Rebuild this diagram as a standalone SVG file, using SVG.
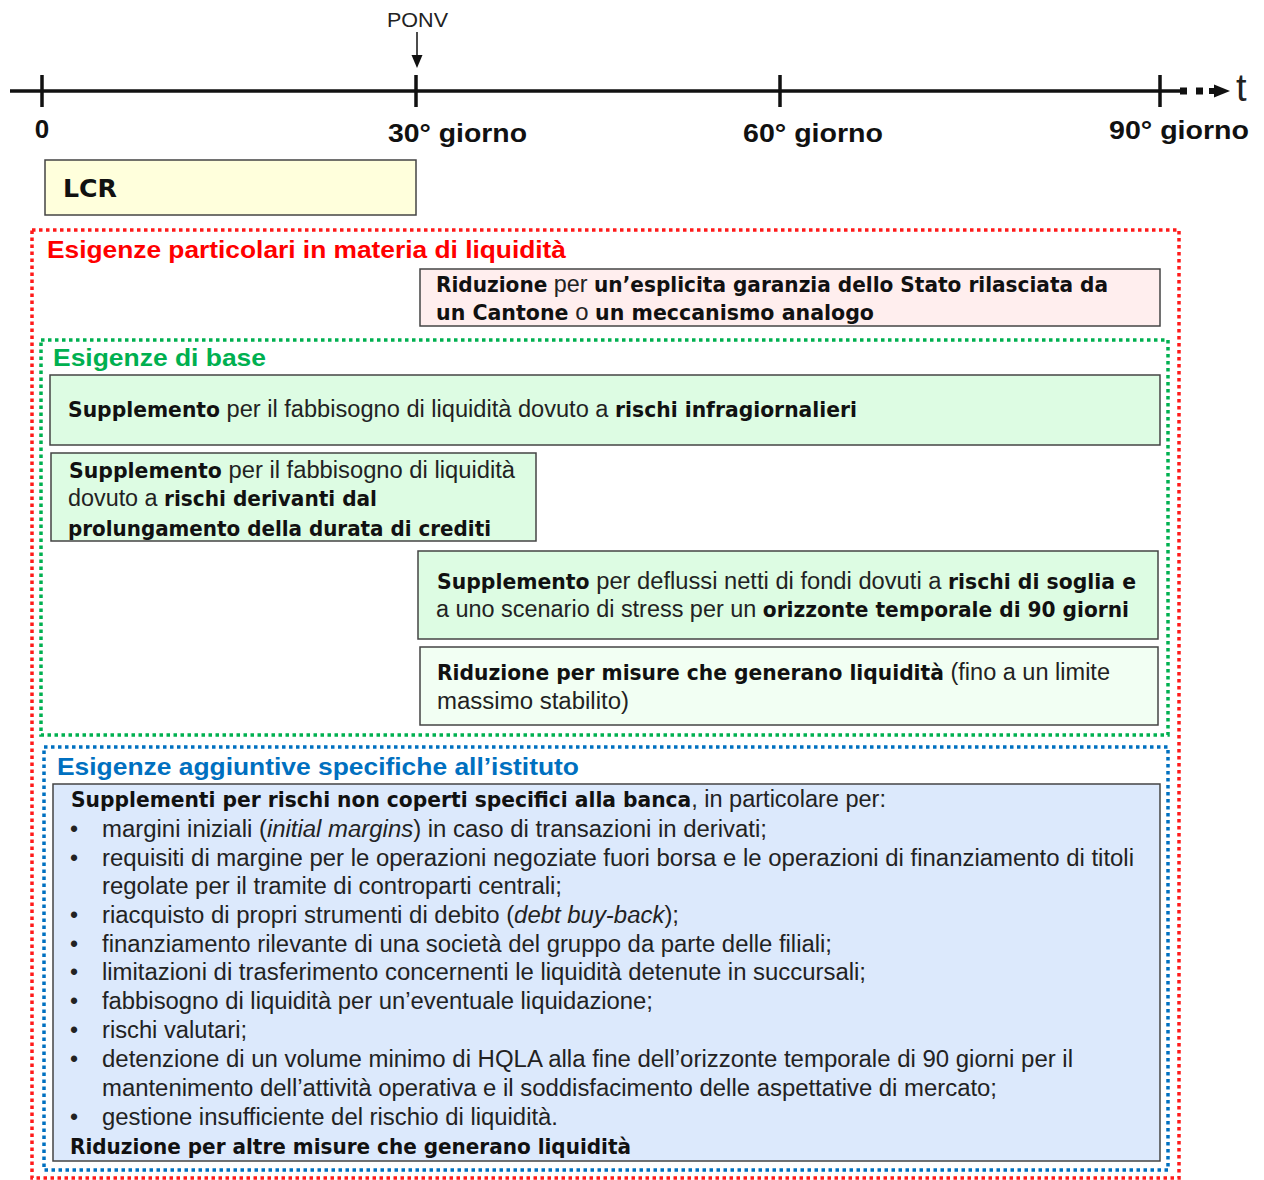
<svg xmlns="http://www.w3.org/2000/svg" width="1264" height="1180" viewBox="0 0 1264 1180">
<defs>
<style>
text{font-family:"Liberation Sans",Arial,sans-serif;fill:#222}
.t{font-size:23px}
.b{font-family:"DejaVu Sans Condensed","DejaVu Sans","Liberation Sans",sans-serif;font-stretch:condensed;font-weight:bold;font-size:22px;fill:#111}
.tl{font-size:26px;font-weight:bold;fill:#111}
.box{stroke:#444;stroke-width:1.5}
.ttl{font-size:24px;font-weight:bold}
.i{font-style:italic}
</style>
</defs>
<rect width="1264" height="1180" fill="#fff"/>
<g id="connectors">
<line x1="10" y1="91" x2="1180" y2="91" stroke="#111" stroke-width="3.5"/>
<rect x="1180" y="87.5" width="7" height="7" fill="#111"/>
<rect x="1196" y="87.5" width="7" height="7" fill="#111"/>
<rect x="1209" y="88" width="8" height="6" fill="#111"/>
<path d="M1214,84.5 L1230,91 L1214,97.5 z" fill="#111"/>
<line x1="42" y1="75" x2="42" y2="107" stroke="#111" stroke-width="3.5"/>
<line x1="416" y1="75" x2="416" y2="107" stroke="#111" stroke-width="3.5"/>
<line x1="780" y1="75" x2="780" y2="107" stroke="#111" stroke-width="3.5"/>
<line x1="1160" y1="75" x2="1160" y2="107" stroke="#111" stroke-width="3.5"/>
<line x1="417" y1="32" x2="417" y2="57" stroke="#111" stroke-width="1.5"/>
<path d="M411.5,55 L422.5,55 L417,68 z" fill="#111"/>
</g>
<g id="timeline-labels">
<text x="387" y="27" font-size="20" textLength="61" lengthAdjust="spacingAndGlyphs">PONV</text>
<text x="1236" y="101" font-size="38" fill="#111">t</text>
<text class="tl" x="42" y="138" text-anchor="middle">0</text>
<text class="tl" x="388" y="142" textLength="139" lengthAdjust="spacingAndGlyphs">30° giorno</text>
<text class="tl" x="743" y="142" textLength="140" lengthAdjust="spacingAndGlyphs">60° giorno</text>
<text class="tl" x="1109" y="139" textLength="140" lengthAdjust="spacingAndGlyphs">90° giorno</text>
</g>
<g id="lcr">
<rect class="box" x="45" y="160" width="371" height="55" fill="#ffffdc"/>
<text class="b" x="63" y="197" style="font-size:25px" textLength="54" lengthAdjust="spacingAndGlyphs">LCR</text>
</g>
<g id="esigenze-particolari">
<rect x="32" y="230" width="1147" height="948" fill="none" stroke="#ff1a1a" stroke-width="3.5" stroke-dasharray="3.5 3.5"/>
<text class="ttl" x="47" y="258" style="fill:#ff0000" textLength="519" lengthAdjust="spacingAndGlyphs">Esigenze particolari in materia di liquidità</text>
</g>
<g id="riduzione-garanzia">
<rect class="box" x="420" y="269" width="740" height="57" fill="#ffeeee"/>
<text class="t" x="436" y="292" textLength="672" lengthAdjust="spacingAndGlyphs"><tspan class="b">Riduzione</tspan> per <tspan class="b">un’esplicita garanzia dello Stato rilasciata da</tspan></text>
<text class="t" x="436" y="320" textLength="438" lengthAdjust="spacingAndGlyphs"><tspan class="b">un Cantone</tspan> o <tspan class="b">un meccanismo analogo</tspan></text>
</g>
<g id="esigenze-base">
<rect x="41" y="340" width="1127" height="395" fill="none" stroke="#00b050" stroke-width="3.5" stroke-dasharray="3.5 3.5"/>
<text class="ttl" x="53" y="366" style="fill:#00b050" textLength="213" lengthAdjust="spacingAndGlyphs">Esigenze di base</text>
</g>
<g id="supplemento-infragiornalieri">
<rect class="box" x="50" y="375" width="1110" height="70" fill="#ddfce3"/>
<text class="t" x="68" y="417" textLength="789" lengthAdjust="spacingAndGlyphs"><tspan class="b">Supplemento</tspan> per il fabbisogno di liquidità dovuto a <tspan class="b">rischi infragiornalieri</tspan></text>
</g>
<g id="supplemento-crediti">
<rect class="box" x="51" y="453" width="485" height="88" fill="#ddfce3"/>
<text class="t" x="69" y="478" textLength="446" lengthAdjust="spacingAndGlyphs"><tspan class="b">Supplemento</tspan> per il fabbisogno di liquidità</text>
<text class="t" x="68" y="506" textLength="309" lengthAdjust="spacingAndGlyphs">dovuto a <tspan class="b">rischi derivanti dal</tspan></text>
<text class="b" x="68" y="536" textLength="423" lengthAdjust="spacingAndGlyphs">prolungamento della durata di crediti</text>
</g>
<g id="supplemento-deflussi">
<rect class="box" x="418" y="551" width="740" height="88" fill="#ddfce3"/>
<text class="t" x="437" y="589" textLength="699" lengthAdjust="spacingAndGlyphs"><tspan class="b">Supplemento</tspan> per deflussi netti di fondi dovuti a <tspan class="b">rischi di soglia e</tspan></text>
<text class="t" x="436" y="617" textLength="693" lengthAdjust="spacingAndGlyphs">a uno scenario di stress per un <tspan class="b">orizzonte temporale di 90 giorni</tspan></text>
</g>
<g id="riduzione-misure">
<rect class="box" x="420" y="647" width="738" height="78" fill="#f2fff3"/>
<text class="t" x="437" y="680" textLength="673" lengthAdjust="spacingAndGlyphs"><tspan class="b">Riduzione per misure che generano liquidità</tspan> (fino a un limite</text>
<text class="t" x="437" y="709" textLength="192" lengthAdjust="spacingAndGlyphs">massimo stabilito)</text>
</g>
<g id="esigenze-aggiuntive">
<rect x="44" y="747" width="1124" height="423" fill="none" stroke="#0070c0" stroke-width="3.5" stroke-dasharray="3.5 3.5"/>
<text class="ttl" x="57" y="775" style="fill:#0070c0" textLength="522" lengthAdjust="spacingAndGlyphs">Esigenze aggiuntive specifiche all’istituto</text>
</g>
<g id="supplementi-specifici">
<rect class="box" x="53" y="784" width="1107" height="377" fill="#dce9fc"/>
<text class="t" x="71" y="807" textLength="815" lengthAdjust="spacingAndGlyphs"><tspan class="b">Supplementi per rischi non coperti specifici alla banca</tspan>, in particolare per:</text>
<text class="t" x="70" y="837">•</text><text class="t" x="102" y="837" textLength="665" lengthAdjust="spacingAndGlyphs">margini iniziali (<tspan class="i">initial margins</tspan>) in caso di transazioni in derivati;</text>
<text class="t" x="70" y="866">•</text><text class="t" x="102" y="866" textLength="1032" lengthAdjust="spacingAndGlyphs">requisiti di margine per le operazioni negoziate fuori borsa e le operazioni di finanziamento di titoli</text>
<text class="t" x="102" y="894" textLength="460" lengthAdjust="spacingAndGlyphs">regolate per il tramite di controparti centrali;</text>
<text class="t" x="70" y="923">•</text><text class="t" x="102" y="923" textLength="577" lengthAdjust="spacingAndGlyphs">riacquisto di propri strumenti di debito (<tspan class="i">debt buy-back</tspan>);</text>
<text class="t" x="70" y="952">•</text><text class="t" x="102" y="952" textLength="730" lengthAdjust="spacingAndGlyphs">finanziamento rilevante di una società del gruppo da parte delle filiali;</text>
<text class="t" x="70" y="980">•</text><text class="t" x="102" y="980" textLength="764" lengthAdjust="spacingAndGlyphs">limitazioni di trasferimento concernenti le liquidità detenute in succursali;</text>
<text class="t" x="70" y="1009">•</text><text class="t" x="102" y="1009" textLength="551" lengthAdjust="spacingAndGlyphs">fabbisogno di liquidità per un’eventuale liquidazione;</text>
<text class="t" x="70" y="1038">•</text><text class="t" x="102" y="1038" textLength="145" lengthAdjust="spacingAndGlyphs">rischi valutari;</text>
<text class="t" x="70" y="1067">•</text><text class="t" x="102" y="1067" textLength="971" lengthAdjust="spacingAndGlyphs">detenzione di un volume minimo di HQLA alla fine dell’orizzonte temporale di 90 giorni per il</text>
<text class="t" x="102" y="1096" textLength="895" lengthAdjust="spacingAndGlyphs">mantenimento dell’attività operativa e il soddisfacimento delle aspettative di mercato;</text>
<text class="t" x="70" y="1125">•</text><text class="t" x="102" y="1125" textLength="456" lengthAdjust="spacingAndGlyphs">gestione insufficiente del rischio di liquidità.</text>
<text class="b" x="70" y="1154" textLength="561" lengthAdjust="spacingAndGlyphs">Riduzione per altre misure che generano liquidità</text>
</g>
</svg>
